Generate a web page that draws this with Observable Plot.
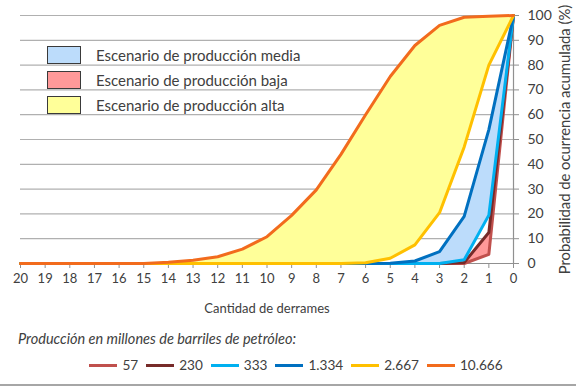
<!DOCTYPE html>
<html>
<head>
<meta charset="utf-8">
<script src="https://cdn.jsdelivr.net/npm/d3@7"></script>
<script src="https://cdn.jsdelivr.net/npm/@observablehq/plot@0.6"></script>
<style>
  html, body { margin: 0; padding: 0; background: #fff; }
  body { width: 576px; height: 386px; position: relative; overflow: hidden; font-family: Lato, "Open Sans", sans-serif; color: #404040; }
  #chart { position: absolute; left: 0; top: 0; }
  #scen { position: absolute; left: 47px; top: 42px; font-size: 15px; }
  #scen .row { display: flex; align-items: center; height: 25px; }
  #scen .sw { width: 32px; height: 16px; border: 1.3px solid #3a3a3a; margin-right: 15px; box-sizing: content-box; }
  #cap { position: absolute; left: 18px; top: 330px; font-size: 14.5px; font-style: italic; }
  #leg { position: absolute; left: 0; width: 576px; top: 357px; display: flex; justify-content: center; font-size: 13.6px; padding-left: 24px; box-sizing: border-box; }
  #leg .it { display: flex; align-items: center; margin-right: 8px; }
  #leg .ln { width: 28px; height: 3px; margin-right: 5px; }
  #frame { position: absolute; left: 0; top: 384px; width: 576px; height: 2px; background: #a6a6a6; }
</style>
</head>
<body>
<div id="chart"></div>
<div id="scen"></div>
<div id="cap">Producción en millones de barriles de petróleo:</div>
<div id="leg"></div>
<div id="frame"></div>
<script>
// x values (cantidad de derrames)
const derrames = [20,19,18,17,16,15,14,13,12,11,10,9,8,7,6,5,4,3,2,1,0];
// cumulative probability (%) per production scenario (millones de barriles)
const p57     = [0,0,0,0,0,0,0,0,0,0,0,0,0,0,0,0,0,0,0,3.7,100];
const p230    = [0,0,0,0,0,0,0,0,0,0,0,0,0,0,0,0,0,0,0.4,12.5,100];
const p333    = [0,0,0,0,0,0,0,0,0,0,0,0,0,0,0,0,0,0,1.5,19.5,100];
const p1334   = [0,0,0,0,0,0,0,0,0,0,0,0,0,0,0,0.1,1,4.8,19,54,100];
const p2667   = [0,0,0,0,0,0,0,0,0,0,0,0,0,0,0.3,2.1,7.5,20.5,47,80,100];
const p10666  = [0,0,0,0,0,0,0.5,1.3,2.7,5.8,10.8,19.4,29.7,44,60,75.4,87.9,96,99.3,99.7,100];

const seriesNames  = ["57","230","333","1.334","2.667","10.666"];
const seriesValues = [p57, p230, p333, p1334, p2667, p10666];
const seriesColors = ["#c0504d","#772b29","#00b0f0","#0070c0","#ffc000","#f26b1d"];

const yTicks = [0,10,20,30,40,50,60,70,80,90,100];

const scenarioLabels = ["Escenario de producción media","Escenario de producción baja","Escenario de producción alta"];
const scenarioFills  = ["#bcdcfb","#ff9999","#ffff99"];

const rows = derrames.map((x, i) => ({
  x, p57: p57[i], p230: p230[i], p333: p333[i], p1334: p1334[i], p2667: p2667[i], p10666: p10666[i]
}));
const long = seriesNames.flatMap((name, s) => derrames.map((x, i) => ({x, y: seriesValues[s][i], name})));

const chart = Plot.plot({
  width: 576,
  height: 318,
  marginLeft: 20,
  marginRight: 63,
  marginTop: 15,
  marginBottom: 55,
  style: {fontFamily: "Lato, 'Open Sans', sans-serif", fontSize: "13px", color: "#404040", background: "transparent"},
  x: {domain: [20, 0]},
  y: {domain: [0, 100]},
  color: {domain: seriesNames, range: seriesColors},
  marks: [
    Plot.gridY(yTicks, {stroke: "#b0b0b0", strokeOpacity: 1, strokeWidth: 1.2}),
    Plot.areaY(rows, {x: "x", y1: "p2667", y2: "p10666", fill: scenarioFills[2]}),
    Plot.areaY(rows, {x: "x", y1: "p333", y2: "p1334", fill: scenarioFills[0]}),
    Plot.areaY(rows, {x: "x", y1: "p57", y2: "p230", fill: scenarioFills[1]}),
    Plot.axisX({ticks: derrames, tickSize: 5, tickPadding: 5, tickFormat: d => String(d), stroke: "#909090",
      label: "Cantidad de derrames", labelAnchor: "center", labelOffset: 49, labelArrow: "none"}),
    Plot.axisY({anchor: "right", ticks: yTicks, tickSize: 5, tickPadding: 9, stroke: "#909090", fontSize: 14,
      label: null}),
    Plot.axisY({anchor: "right", ticks: [], tickSize: 0, stroke: "#909090", fontSize: 14.8,
      label: "Probabilidad de ocurrencia acumulada (%)", labelAnchor: "center", labelOffset: 56, labelArrow: "none"}),
    Plot.ruleY([0], {stroke: "#909090", strokeWidth: 1.2}),
    Plot.ruleX([0], {stroke: "#909090", strokeWidth: 1.2}),
    Plot.line(long, {x: "x", y: "y", z: "name", stroke: "name", strokeWidth: 3, strokeLinejoin: "round"})
  ]
});
document.getElementById("chart").append(chart);

const scen = document.getElementById("scen");
scenarioLabels.forEach((t, i) => {
  const r = document.createElement("div"); r.className = "row";
  const sw = document.createElement("div"); sw.className = "sw"; sw.style.background = scenarioFills[i];
  const tx = document.createElement("span"); tx.textContent = t;
  r.append(sw, tx); scen.append(r);
});

const leg = document.getElementById("leg");
seriesNames.forEach((n, i) => {
  const it = document.createElement("div"); it.className = "it";
  const ln = document.createElement("div"); ln.className = "ln"; ln.style.background = seriesColors[i];
  const tx = document.createElement("span"); tx.textContent = n;
  it.append(ln, tx); leg.append(it);
});
</script>
</body>
</html>
